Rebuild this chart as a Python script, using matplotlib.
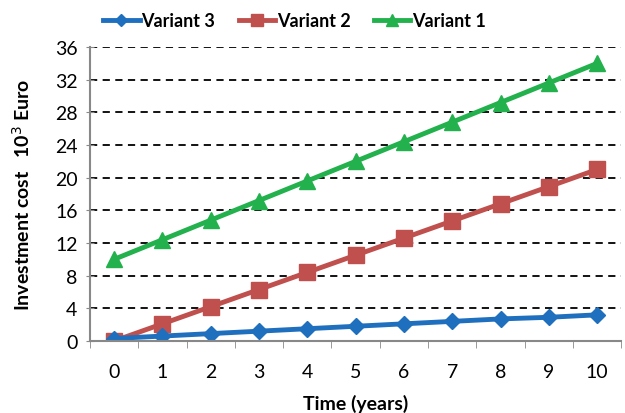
import numpy as np
import matplotlib.pyplot as plt

plt.rcParams['font.family'] = ['Lato', 'DejaVu Sans']

years = list(range(11))
variant1 = [10, 12.4, 14.8, 17.2, 19.6, 22, 24.4, 26.8, 29.2, 31.6, 34]
variant2 = [0, 2.1, 4.2, 6.3, 8.4, 10.5, 12.6, 14.7, 16.8, 18.9, 21]
variant3 = [0.3, 0.6, 0.9, 1.2, 1.5, 1.8, 2.1, 2.4, 2.7, 2.9, 3.2]
yticks = list(range(0, 37, 4))

fig = plt.figure(figsize=(6.25, 4.14), dpi=100)
ax = fig.add_axes([0.144, 0.174, 0.85, 0.71])

ax.plot(years, variant3, color='#1f6fbf', lw=3.5, marker='D', ms=8, label='Variant 3', zorder=4)
ax.plot(years, variant2, color='#c0504d', lw=3.5, marker='s', ms=11, label='Variant 2', zorder=3)
ax.plot(years, variant1, color='#22b14c', lw=3.5, marker='^', ms=11, label='Variant 1', zorder=3)

ax.set_xlim(-0.5, 10.5)
ax.set_ylim(0, 36)
ax.set_yticks(yticks)
ax.set_xticks(years)
ax.set_xticks(np.arange(-0.5, 11, 1), minor=True)
ax.tick_params(axis='x', which='major', length=0, pad=16, labelsize=14)
ax.tick_params(axis='x', which='minor', length=5, direction='out', color='#888888')
ax.tick_params(axis='y', length=6, direction='inout', color='#888888', labelsize=14, pad=6)

for y in yticks[1:]:
    ax.axhline(y, color='black', ls=(0, (4, 3)), lw=1.3, zorder=1)

for s in ['top', 'right']:
    ax.spines[s].set_visible(False)
ax.spines['left'].set_color('#888888')
ax.spines['bottom'].set_color('#888888')
ax.spines['left'].set_linewidth(1.5)
ax.spines['bottom'].set_linewidth(1.5)
ax.spines['bottom'].set_zorder(5)

ax.set_xlabel('Time (years)', fontsize=14, fontweight='bold', labelpad=10)
ax.set_ylabel('Investment cost   10$^3$ Euro', fontsize=14, fontweight='bold', labelpad=16)

ax.legend(loc='lower center', bbox_to_anchor=(0.385, 1.005), ncol=3, frameon=False,
          prop={'weight': 'bold', 'size': 13}, handlelength=2.0, handletextpad=0.1,
          columnspacing=1.3, markerscale=0.75)

fig.savefig('out.png', dpi=100)
